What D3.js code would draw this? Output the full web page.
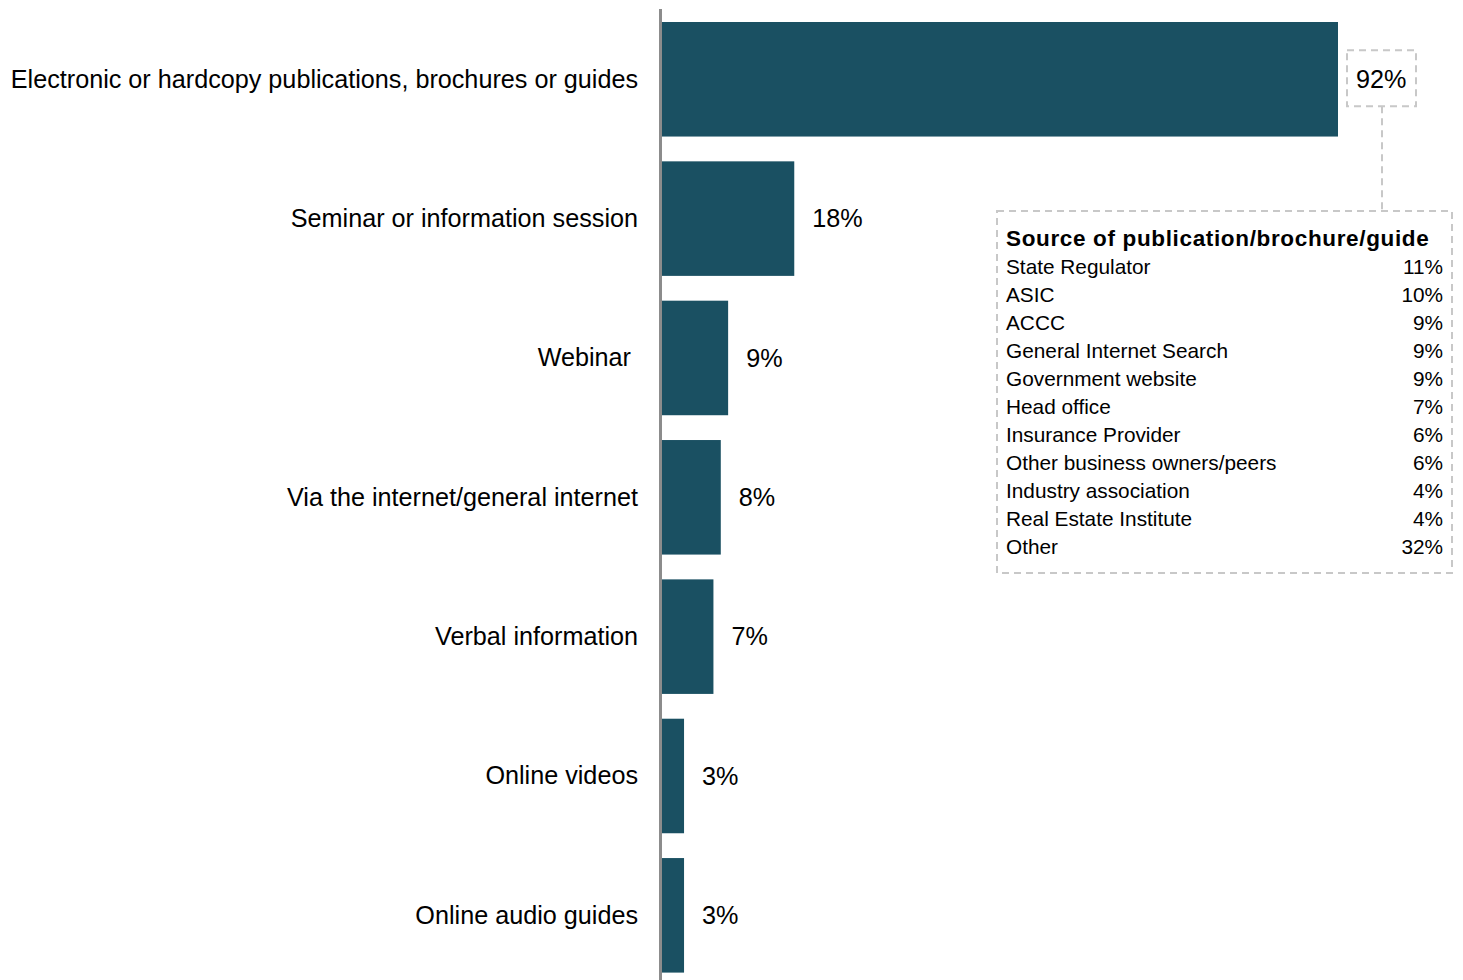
<!DOCTYPE html>
<html>
<head>
<meta charset="utf-8">
<script src="https://cdn.jsdelivr.net/npm/d3@7"></script>
<style>
    body { margin: 0; background: #fff; }
    text { font-family: "Liberation Sans", Arial, sans-serif; fill: #000; }
</style>
</head>
<body>
<div id="chart"></div>
<script>

// data
var categories = [
    "Electronic or hardcopy publications, brochures or guides",
    "Seminar or information session",
    "Webinar\u00a0",
    "Via the internet/general internet",
    "Verbal information",
    "Online videos",
    "Online audio guides"
];
var values = [92, 18, 9, 8, 7, 3, 3];

var sourceTitle = "Source of publication/brochure/guide";
var sources = [
    "State Regulator", "ASIC", "ACCC", "General Internet Search", "Government website",
    "Head office", "Insurance Provider", "Other business owners/peers",
    "Industry association", "Real Estate Institute", "Other"
];
var sourceValues = [11, 10, 9, 9, 9, 7, 6, 6, 4, 4, 32];

var W = 1463, H = 980;
var axisX = 660.5;
var barColor = "#1a5062";

var svg = d3.select("#chart").append("svg")
    .attr("width", W)
    .attr("height", H);

// scales
var x = d3.scaleLinear()
    .domain([0, 92])
    .range([662, 1338]);

var y = d3.scaleBand()
    .domain(categories)
    .range([9.6, 985])
    .paddingInner(0.178)
    .paddingOuter(0.089);

// bars
svg.selectAll(".bar")
    .data(values)
    .enter().append("rect")
    .attr("class", "bar")
    .attr("x", x(0))
    .attr("y", function(d, i) { return y(categories[i]); })
    .attr("width", function(d) { return x(d) - x(0); })
    .attr("height", y.bandwidth())
    .attr("fill", barColor);

// axis line
svg.append("line")
    .attr("x1", axisX).attr("x2", axisX)
    .attr("y1", 9).attr("y2", H)
    .attr("stroke", "#8c8c8c")
    .attr("stroke-width", 3);

// category labels
svg.selectAll(".cat")
    .data(categories)
    .enter().append("text")
    .attr("class", "cat")
    .attr("x", 638)
    .attr("y", function(d) { return y(d) + y.bandwidth() / 2; })
    .attr("dy", "0.33em")
    .attr("text-anchor", "end")
    .style("font-size", "25.2px")
    .style("white-space", "pre")
    .text(function(d) { return d; });

// value labels
svg.selectAll(".val")
    .data(values)
    .enter().append("text")
    .attr("class", "val")
    .attr("x", function(d) { return x(d) + 18; })
    .attr("y", function(d, i) { return y(categories[i]) + y.bandwidth() / 2; })
    .attr("dy", "0.35em")
    .style("font-size", "25.2px")
    .text(function(d) { return d + "%"; });

// callout box around top value
var dash = { stroke: "#c8c8c8", "stroke-width": 2, "stroke-dasharray": "7,5", fill: "none" };
function applyDash(sel) {
    Object.keys(dash).forEach(function(k) { sel.attr(k, dash[k]); });
    return sel;
}

var topMid = y(categories[0]) + y.bandwidth() / 2;
applyDash(svg.append("rect"))
    .attr("x", x(92) + 9).attr("y", topMid - 29)
    .attr("width", 69).attr("height", 56);

// connector
applyDash(svg.append("line"))
    .attr("x1", 1382).attr("x2", 1382)
    .attr("y1", topMid + 27).attr("y2", 211);

// inset table
var box = { x: 997, y: 211, w: 455, h: 362 };
applyDash(svg.append("rect"))
    .attr("x", box.x).attr("y", box.y)
    .attr("width", box.w).attr("height", box.h);

svg.append("text")
    .attr("x", box.x + 9)
    .attr("y", 246)
    .style("font-size", "22.5px")
    .style("font-weight", "bold")
    .style("letter-spacing", "0.65px")
    .text(sourceTitle);

var rowY = d3.scaleLinear().domain([0, 1]).range([274, 302]);

svg.selectAll(".src")
    .data(sources)
    .enter().append("text")
    .attr("class", "src")
    .attr("x", box.x + 9)
    .attr("y", function(d, i) { return rowY(i); })
    .style("font-size", "20.8px")
    .text(function(d) { return d; });

svg.selectAll(".srcv")
    .data(sourceValues)
    .enter().append("text")
    .attr("class", "srcv")
    .attr("x", box.x + box.w - 9)
    .attr("y", function(d, i) { return rowY(i); })
    .attr("text-anchor", "end")
    .style("font-size", "20.8px")
    .text(function(d) { return d + "%"; });

</script>
</body>
</html>
